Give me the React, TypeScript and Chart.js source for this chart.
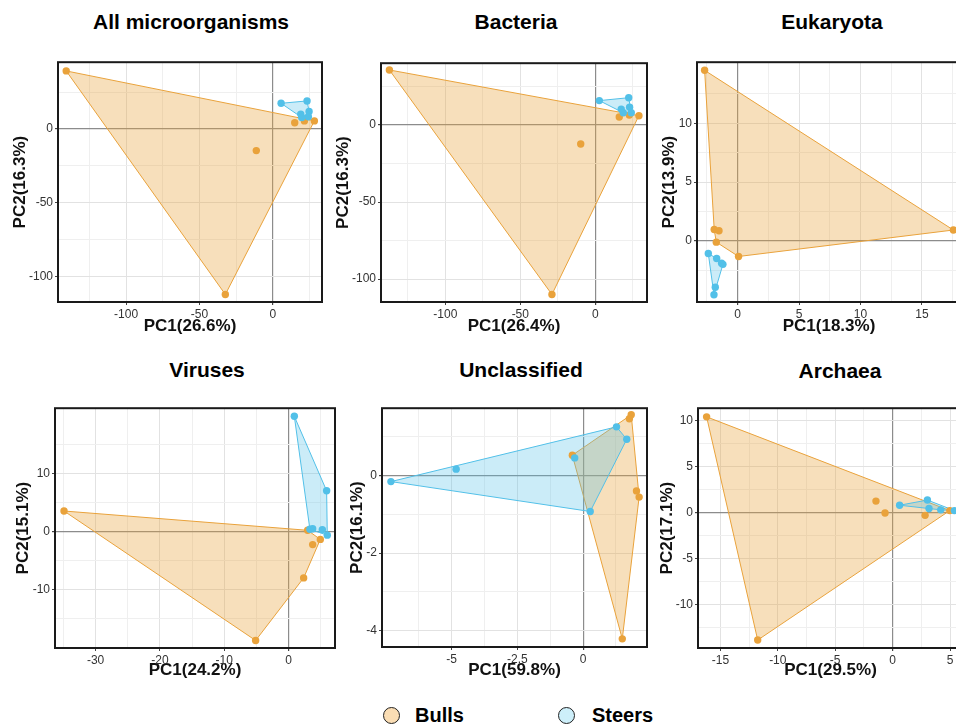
import React, { useEffect, useRef } from 'react';
import { Chart, registerables } from 'chart.js';

Chart.register(...registerables);

// ---------------- data ----------------
const groupNames = ['Bulls', 'Steers'];

// All microorganisms
const allBullsX = [-140.8, -32.3, -11.2, 15.0, 21.6, 28.4];
const allBullsY = [39.3, -111.9, -14.6, 4.2, 5.5, 5.5];
const allSteersX = [5.7, 23.4, 24.8, 19.1, 24.3, 19.8];
const allSteersY = [17.4, 19.0, 11.9, 10.1, 8.3, 7.8];

// Bacteria
const bacBullsX = [-137.3, -28.9, -9.7, 16.0, 22.7, 29.1];
const bacBullsY = [35.8, -110.0, -12.3, 5.3, 6.5, 6.1];
const bacSteersX = [2.7, 22.3, 22.9, 17.3, 24.0, 18.7];
const bacSteersY = [15.9, 17.8, 11.6, 10.4, 8.0, 8.0];

// Eukaryota
const eukBullsX = [-2.68, 17.56, 0.08, -1.73, -1.9, -1.51];
const eukBullsY = [14.5, 0.92, -1.33, -0.11, 0.97, 0.86];
const eukSteersX = [-2.38, -1.7, -1.19, -1.3, -1.81, -1.92];
const eukSteersY = [-1.08, -1.5, -2.0, -1.9, -3.95, -4.58];

// Viruses
const virBullsX = [-34.9, -5.13, 2.33, 3.73, 4.92, 2.95];
const virBullsY = [3.55, -18.8, -8.0, -2.25, -1.35, 0.22];
const virSteersX = [0.88, 5.9, 3.73, 3.3, 5.23, 6.0];
const virSteersY = [19.9, 7.04, 0.5, 0.39, 0.34, -0.62];

// Unclassified
const uncBullsX = [-0.41, 1.83, 1.76, 2.03, 2.13, 1.49];
const uncBullsY = [0.52, 1.56, 1.46, -0.4, -0.56, -4.21];
const uncSteersX = [-7.31, -4.83, -0.32, 0.27, 1.27, 1.66];
const uncSteersY = [-0.16, 0.16, 0.45, -0.93, 1.25, 0.93];

// Archaea
const arcBullsX = [-16.2, -11.75, -1.45, -0.66, 2.83, 4.98];
const arcBullsY = [10.36, -13.84, 1.23, -0.07, -0.32, 0.2];
const arcSteersX = [0.61, 3.03, 3.17, 4.19, 5.38];
const arcSteersY = [0.78, 1.34, 0.42, 0.28, 0.2];

// tick labels (major) and minor grid positions
const ticksHundredMajor = [-100, -50, 0];
const ticksHundredMinorX = [-125, -75, -25, 25];
const ticksHundredMinorY = [-75, -25, 25];
const eukXMajor = [0, 5, 10, 15];
const eukXMinor = [-2.5, 2.5, 7.5, 12.5, 17.5];
const eukYMajor = [0, 5, 10];
const eukYMinor = [-2.5, 2.5, 7.5, 12.5];
const virXMajor = [-30, -20, -10, 0];
const virXMinor = [-35, -25, -15, -5, 5];
const virYMajor = [-10, 0, 10];
const virYMinor = [-15, -5, 5, 15];
const uncXMajor = [-5, -2.5, 0];
const uncXMinor = [-6.25, -3.75, -1.25, 1.25];
const uncYMajor = [-4, -2, 0];
const uncYMinor = [-3, -1, 1];
const arcXMajor = [-15, -10, -5, 0, 5];
const arcXMinor = [-12.5, -7.5, -2.5, 2.5];
const arcYMajor = [-10, -5, 0, 5, 10];
const arcYMinor = [-12.5, -7.5, -2.5, 2.5, 7.5];

// ---------------- styles ----------------
const FONT = '"Liberation Sans", Arial, Helvetica, sans-serif';
const BULL = '#E9A23B';
const STEER = '#52C0E8';
const BULL_FILL = 'rgba(233,162,59,0.35)';
const STEER_FILL = 'rgba(82,192,232,0.30)';

type P = { x: number; y: number };
const pts = (xs: number[], ys: number[]): P[] => xs.map((x, i) => ({ x, y: ys[i] }));

function convexHull(input: P[]): P[] {
  const p = [...input].sort((a, b) => (a.x === b.x ? a.y - b.y : a.x - b.x));
  if (p.length < 3) return p;
  const cross = (o: P, a: P, b: P) => (a.x - o.x) * (b.y - o.y) - (a.y - o.y) * (b.x - o.x);
  const lower: P[] = [];
  for (const q of p) {
    while (lower.length >= 2 && cross(lower[lower.length - 2], lower[lower.length - 1], q) <= 0) lower.pop();
    lower.push(q);
  }
  const upper: P[] = [];
  for (let i = p.length - 1; i >= 0; i--) {
    const q = p[i];
    while (upper.length >= 2 && cross(upper[upper.length - 2], upper[upper.length - 1], q) <= 0) upper.pop();
    upper.push(q);
  }
  const h = lower.slice(0, -1).concat(upper.slice(0, -1));
  return [...h, h[0]];
}

type PanelCfg = {
  title: string; xLabel: string; yLabel: string;
  bulls: P[]; steers: P[];
  xRange: [number, number]; yRange: [number, number];
  xMajor: number[]; xMinor: number[]; yMajor: number[]; yMinor: number[];
  box: { l: number; t: number; r: number; b: number };
  titleX: number; titleY: number; yTitleX: number; xTitleY: number;
};

const panels: PanelCfg[] = [
  {
    title: 'All microorganisms', xLabel: 'PC1(26.6%)', yLabel: 'PC2(16.3%)',
    bulls: pts(allBullsX, allBullsY), steers: pts(allSteersX, allSteersY),
    xRange: [-146.4, 33.6], yRange: [-117, 45.2],
    xMajor: ticksHundredMajor, xMinor: ticksHundredMinorX, yMajor: ticksHundredMajor, yMinor: ticksHundredMinorY,
    box: { l: 58, t: 57, r: 322, b: 302 }, titleX: 191, titleY: 22, yTitleX: 20, xTitleY: 326,
  },
  {
    title: 'Bacteria', xLabel: 'PC1(26.4%)', yLabel: 'PC2(16.3%)',
    bulls: pts(bacBullsX, bacBullsY), steers: pts(bacSteersX, bacSteersY),
    xRange: [-142.9, 34.5], yRange: [-114.9, 40.2],
    xMajor: ticksHundredMajor, xMinor: ticksHundredMinorX, yMajor: ticksHundredMajor, yMinor: ticksHundredMinorY,
    box: { l: 381, t: 58, r: 647, b: 302 }, titleX: 516, titleY: 22, yTitleX: 343, xTitleY: 326,
  },
  {
    title: 'Eukaryota', xLabel: 'PC1(18.3%)', yLabel: 'PC2(13.9%)',
    bulls: pts(eukBullsX, eukBullsY), steers: pts(eukSteersX, eukSteersY),
    xRange: [-3.3, 18.18], yRange: [-5.2, 15.19],
    xMajor: eukXMajor, xMinor: eukXMinor, yMajor: eukYMajor, yMinor: eukYMinor,
    box: { l: 697, t: 57, r: 961, b: 302 }, titleX: 832, titleY: 22, yTitleX: 669, xTitleY: 326,
  },
  {
    title: 'Viruses', xLabel: 'PC1(24.2%)', yLabel: 'PC2(15.1%)',
    bulls: pts(virBullsX, virBullsY), steers: pts(virSteersX, virSteersY),
    xRange: [-36.3, 7.2], yRange: [-20.1, 21.3],
    xMajor: virXMajor, xMinor: virXMinor, yMajor: virYMajor, yMinor: virYMinor,
    box: { l: 55, t: 403, r: 335, b: 648 }, titleX: 207, titleY: 370, yTitleX: 23, xTitleY: 670,
  },
  {
    title: 'Unclassified', xLabel: 'PC1(59.8%)', yLabel: 'PC2(16.1%)',
    bulls: pts(uncBullsX, uncBullsY), steers: pts(uncSteersX, uncSteersY),
    xRange: [-7.65, 2.43], yRange: [-4.42, 1.73],
    xMajor: uncXMajor, xMinor: uncXMinor, yMajor: uncYMajor, yMinor: uncYMinor,
    box: { l: 382, t: 403, r: 647, b: 647 }, titleX: 521, titleY: 370, yTitleX: 357, xTitleY: 670,
  },
  {
    title: 'Archaea', xLabel: 'PC1(29.5%)', yLabel: 'PC2(17.1%)',
    bulls: pts(arcBullsX, arcBullsY), steers: pts(arcSteersX, arcSteersY),
    xRange: [-16.95, 6.13], yRange: [-14.7, 11.3],
    xMajor: arcXMajor, xMinor: arcXMinor, yMajor: arcYMajor, yMinor: arcYMinor,
    box: { l: 698, t: 403, r: 963, b: 648 }, titleX: 840, titleY: 371, yTitleX: 667, xTitleY: 670,
  },
];

const framePlugin = {
  id: 'panelFrame',
  afterDraw(chart: any) {
    const { ctx, chartArea } = chart;
    const { left, top, right, bottom } = chartArea;
    ctx.save();
    ctx.strokeStyle = '#1a1a1a';
    ctx.lineWidth = 2;
    ctx.strokeRect(left, top, right - left, bottom - top);
    ctx.restore();
  },
};

function axisConfig(min: number, max: number, major: number[], minor: number[], title: string, isX: boolean, fit: number, titlePad: number) {
  const all = [...major, ...minor].sort((a, b) => a - b);
  const isMajor = (v: number) => major.some((m) => Math.abs(m - v) < 1e-9);
  return {
    type: 'linear',
    position: isX ? 'bottom' : 'left',
    min, max,
    afterBuildTicks: (scale: any) => {
      scale.ticks = all.map((v) => ({ value: v }));
    },
    afterFit: (scale: any) => {
      if (isX) scale.height = fit; else scale.width = fit;
    },
    border: { display: false },
    grid: {
      drawTicks: true,
      tickLength: 3,
      color: (c: any) => {
        const v = c.tick ? c.tick.value : NaN;
        if (Math.abs(v) < 1e-9) return '#8c8c8c';
        return isMajor(v) ? '#e2e2e2' : '#efefef';
      },
      lineWidth: (c: any) => {
        const v = c.tick ? c.tick.value : NaN;
        return Math.abs(v) < 1e-9 ? 1.2 : 1;
      },
      tickColor: (c: any) => {
        const v = c.tick ? c.tick.value : NaN;
        return isMajor(v) ? '#444' : 'rgba(0,0,0,0)';
      },
    },
    ticks: {
      autoSkip: false,
      maxRotation: 0,
      padding: 2,
      color: '#333',
      font: { family: FONT, size: 12 },
      callback: (v: any) => (isMajor(Number(v)) ? String(v) : ''),
    },
    title: {
      display: true,
      text: title,
      color: '#111',
      font: { family: FONT, size: 17, weight: 'bold' },
      padding: isX ? { top: 0, bottom: titlePad } : { top: titlePad, bottom: 0 },
    },
  };
}

function Panel({ cfg }: { cfg: PanelCfg }) {
  const ref = useRef<HTMLCanvasElement>(null);
  const half = (17 * 1.2) / 2;
  const canvasLeft = Math.round(cfg.yTitleX - half - 2);
  const yTitlePad = cfg.yTitleX - canvasLeft - half;
  const padTop = 4;
  const padRight = 4;
  const canvasTop = cfg.box.t - padTop;
  const canvasBottom = Math.round(cfg.xTitleY + half + 2);
  const xTitlePad = canvasBottom - cfg.xTitleY - half;
  const width = cfg.box.r + padRight - canvasLeft;
  const height = canvasBottom - canvasTop;
  const yAxisW = cfg.box.l - canvasLeft;
  const xAxisH = canvasBottom - cfg.box.b;

  useEffect(() => {
    if (!ref.current) return;
    const chart = new Chart(ref.current, {
      type: 'scatter',
      data: {
        datasets: [
          {
            label: groupNames[0] + ' hull',
            data: convexHull(cfg.bulls),
            showLine: true,
            fill: 'shape',
            backgroundColor: BULL_FILL,
            borderColor: BULL,
            borderWidth: 1,
            pointRadius: 0,
            tension: 0,
            order: 4,
          },
          {
            label: groupNames[1] + ' hull',
            data: convexHull(cfg.steers),
            showLine: true,
            fill: 'shape',
            backgroundColor: STEER_FILL,
            borderColor: STEER,
            borderWidth: 1,
            pointRadius: 0,
            tension: 0,
            order: 3,
          },
          {
            label: groupNames[0],
            data: cfg.bulls,
            pointRadius: 3.7,
            pointBackgroundColor: BULL,
            pointBorderWidth: 0,
            order: 2,
          },
          {
            label: groupNames[1],
            data: cfg.steers,
            pointRadius: 3.7,
            pointBackgroundColor: STEER,
            pointBorderWidth: 0,
            order: 1,
          },
        ],
      } as any,
      options: {
        animation: false,
        responsive: false,
        events: [],
        layout: { padding: { top: padTop, right: padRight, left: 0, bottom: 0 } },
        plugins: {
          legend: { display: false },
          tooltip: { enabled: false },
          title: { display: false },
        },
        scales: {
          x: axisConfig(cfg.xRange[0], cfg.xRange[1], cfg.xMajor, cfg.xMinor, cfg.xLabel, true, xAxisH, xTitlePad),
          y: axisConfig(cfg.yRange[0], cfg.yRange[1], cfg.yMajor, cfg.yMinor, cfg.yLabel, false, yAxisW, yTitlePad),
        } as any,
      },
      plugins: [framePlugin],
    });
    return () => chart.destroy();
  }, []);

  return (
    <canvas
      ref={ref}
      width={width}
      height={height}
      style={{ position: 'absolute', left: canvasLeft, top: canvasTop, width, height, display: 'block' }}
    />
  );
}

const legendFills = ['#FADDB4', '#CDEFFA'];
const legendLefts = [383, 558];

export default function App() {
  return (
    <div
      style={{
        position: 'fixed', left: 0, top: 0, width: 956, height: 725,
        overflow: 'hidden', background: '#ffffff', fontFamily: FONT,
      }}
    >
      {panels.map((p, i) => (
        <Panel key={'p' + i} cfg={p} />
      ))}
      {panels.map((p, i) => (
        <div
          key={'t' + i}
          style={{
            position: 'absolute', left: p.titleX - 150, width: 300, top: p.titleY - 12,
            lineHeight: '24px', textAlign: 'center', fontWeight: 'bold', fontSize: 21, color: '#000',
          }}
        >
          {p.title}
        </div>
      ))}
      {groupNames.map((g, i) => (
        <div
          key={'l' + i}
          style={{
            position: 'absolute', left: legendLefts[i], top: 703, height: 24,
            display: 'flex', alignItems: 'center',
          }}
        >
          <span
            style={{
              display: 'inline-block', width: 15, height: 15, borderRadius: '50%',
              background: legendFills[i], border: '1.5px solid #222', marginRight: i === 0 ? 15 : 17,
            }}
          />
          <span style={{ fontWeight: 'bold', fontSize: 20, color: '#000', lineHeight: '24px' }}>{g}</span>
        </div>
      ))}
    </div>
  );
}
